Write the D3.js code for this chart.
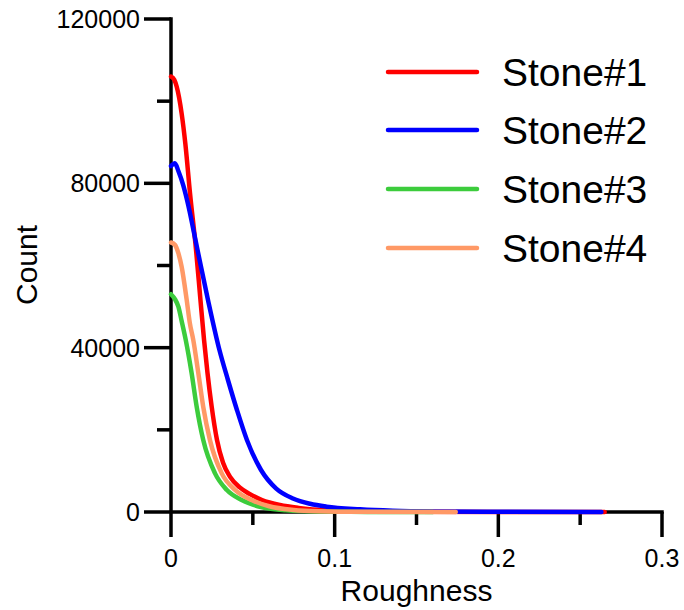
<!DOCTYPE html>
<html>
<head>
<meta charset="utf-8">
<script src="https://cdn.jsdelivr.net/npm/d3@7"></script>
<style>
  html, body { margin: 0; padding: 0; background: #fff; }
  svg { display: block; font-family: "Liberation Sans", Arial, Helvetica, sans-serif; }
</style>
</head>
<body>
<svg id="chart" width="684" height="610"></svg>
<script>
// ---- data ----
const seriesNames = ["Stone#1", "Stone#2", "Stone#3", "Stone#4"];
const seriesColors = ["#ff0000", "#0000ff", "#3ccc3c", "#ff9966"];

const stone1 = [
  [0, 106000], [0.002, 105200], [0.0035, 103500], [0.0065, 97000], [0.0088, 89500],
  [0.0116, 77650], [0.0153, 63780], [0.018, 51610], [0.0202, 41870], [0.0223, 33840],
  [0.0248, 25800], [0.0281, 17530], [0.0318, 12000], [0.036, 8600], [0.042, 6000],
  [0.048, 4400], [0.0556, 2920], [0.0666, 1700], [0.078, 1000], [0.09, 550],
  [0.11, 220], [0.15, 50], [0.2, 15], [0.265, 0]
];
const stone2 = [
  [0, 84200], [0.0024, 84900], [0.0045, 83000], [0.0075, 79500], [0.0098, 75950],
  [0.0162, 63780], [0.0226, 51610], [0.0296, 39430], [0.0348, 32130], [0.0403, 24830],
  [0.0464, 17530], [0.055, 10220], [0.0643, 5700], [0.0745, 3300], [0.085, 2000],
  [0.095, 1300], [0.1155, 650], [0.1356, 300], [0.16, 120], [0.2, 40], [0.263, 0]
];
const stone3 = [
  [0, 53000], [0.0024, 51800], [0.0045, 50000], [0.0065, 46500], [0.009, 41900],
  [0.0126, 33800], [0.0157, 25600], [0.0197, 17500], [0.0269, 9400], [0.034, 5400],
  [0.0432, 2900], [0.055, 1200], [0.07, 400], [0.09, 100], [0.12, 20], [0.16, 0]
];
const stone4 = [
  [0, 65600], [0.0025, 65000], [0.0045, 63000], [0.0065, 59700], [0.0096, 51600],
  [0.0115, 46000], [0.0136, 41900], [0.0167, 33800], [0.0197, 25600], [0.0238, 17500],
  [0.031, 9400], [0.0391, 5400], [0.0493, 2900], [0.06, 1400], [0.075, 500],
  [0.09, 200], [0.12, 50], [0.174, 0]
];
const seriesData = [stone1, stone2, stone3, stone4];
const drawOrder = [0, 1, 2, 3];

const xMajorTicks = [0, 0.1, 0.2, 0.3];
const xMinorTicks = [0.05, 0.15, 0.25];
const yMajorTicks = [0, 40000, 80000, 120000];
const yMinorTicks = [20000, 60000, 100000];
const xTitle = "Roughness";
const yTitle = "Count";

// ---- layout ----
const svg = d3.select("#chart");
const x = d3.scaleLinear().domain([0, 0.3]).range([171, 662]);
const y = d3.scaleLinear().domain([0, 120000]).range([512, 19]);
const axisW = 3.5;

const axes = svg.append("g").attr("stroke", "#000").attr("stroke-width", axisW).attr("fill", "none");
axes.append("line").attr("x1", x(0)).attr("x2", x(0)).attr("y1", y(120000) - axisW / 2).attr("y2", y(0) + 25);
axes.append("line").attr("x1", x(0)).attr("x2", x(0.3) + axisW / 2).attr("y1", y(0)).attr("y2", y(0));

axes.selectAll(".ymaj").data(yMajorTicks).join("line").attr("class", "ymaj")
  .attr("x1", x(0) - 27).attr("x2", x(0)).attr("y1", d => y(d)).attr("y2", d => y(d));
axes.selectAll(".ymin").data(yMinorTicks).join("line").attr("class", "ymin")
  .attr("x1", x(0) - 14).attr("x2", x(0)).attr("y1", d => y(d)).attr("y2", d => y(d));
axes.selectAll(".xmaj").data(xMajorTicks.filter(d => d > 0)).join("line").attr("class", "xmaj")
  .attr("x1", d => x(d)).attr("x2", d => x(d)).attr("y1", y(0)).attr("y2", y(0) + 25);
axes.selectAll(".xmin").data(xMinorTicks).join("line").attr("class", "xmin")
  .attr("x1", d => x(d)).attr("x2", d => x(d)).attr("y1", y(0)).attr("y2", y(0) + 13);

svg.append("g").selectAll("text").data(yMajorTicks).join("text")
  .attr("x", x(0) - 31).attr("y", d => y(d)).attr("dy", "0.36em")
  .attr("text-anchor", "end").attr("font-size", 25).attr("fill", "#000")
  .text(d => d3.format("d")(d));
svg.append("g").selectAll("text").data(xMajorTicks).join("text")
  .attr("x", d => x(d)).attr("y", 567)
  .attr("text-anchor", "middle").attr("font-size", 25).attr("fill", "#000")
  .text(d => d === 0 ? "0" : d3.format(".1f")(d));

svg.append("text").attr("x", (x(0) + x(0.3)) / 2).attr("y", 601)
  .attr("text-anchor", "middle").attr("font-size", 30).attr("fill", "#000").text(xTitle);
svg.append("text").attr("transform", `translate(37,265) rotate(-90)`)
  .attr("text-anchor", "middle").attr("font-size", 30).attr("fill", "#000").text(yTitle);

const line = d3.line().x(d => x(d[0])).y(d => y(d[1])).curve(d3.curveMonotoneX);
svg.append("g").selectAll("path").data(drawOrder).join("path")
  .attr("d", i => line(seriesData[i]))
  .attr("fill", "none").attr("stroke", i => seriesColors[i])
  .attr("stroke-width", 4.5).attr("stroke-linejoin", "round").attr("stroke-linecap", "round");

const legendY = [72, 130, 189, 248];
const lg = svg.append("g").selectAll("g").data(seriesNames).join("g")
  .attr("transform", (d, i) => `translate(0,${legendY[i]})`);
lg.append("line").attr("x1", 388).attr("x2", 477).attr("y1", 0).attr("y2", 0)
  .attr("stroke", (d, i) => seriesColors[i]).attr("stroke-width", 4.5).attr("stroke-linecap", "round");
lg.append("text").attr("x", 502).attr("y", 0).attr("dy", "0.36em")
  .attr("font-size", 39).attr("fill", "#000").text(d => d);
</script>
</body>
</html>
